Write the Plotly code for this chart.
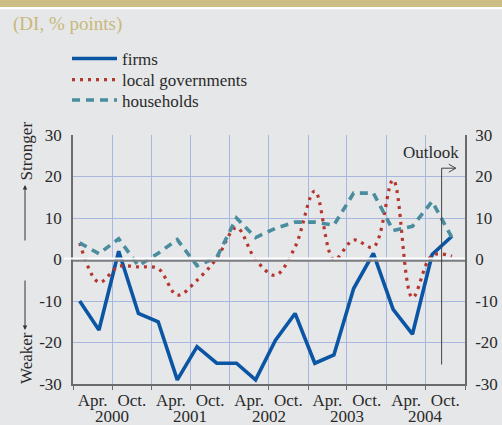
import plotly.graph_objects as go

# ---- data ----
years = [2000, 2001, 2002, 2003, 2004]
mid_months = [2, 5, 8, 11]  # quarter points plotted at first day of mid-quarter month
dates = [f"{y}-{m:02d}-01" for y in years for m in mid_months]

firms = [-10, -17, 2, -13, -15, -29, -21, -25, -25, -29,
         -19.5, -13, -25, -23, -7, 1.5, -12, -18, 1.2, 5.6]
local_governments = [4, -5.5, -1.7, -1.8, -2.2, -8.6, -5, 0.3, 7.7, 0,
                     -3.8, 3, 16.5, 0, 4.7, 3, 19.2, -9.2, 1, 0.8]
households = [4, 1.4, 5, -1.5, 1.5, 4.8, -1.5, 0.5, 10, 5.3,
              7.5, 9, 9, 8.3, 16, 16, 7, 8, 14, 5.3]

y_ticks = [-30, -20, -10, 0, 10, 20, 30]
y_ticktext = ["-30", "-20", "-10", "0", "10", "20", "30"]
x_label_vals = [f"{y}-{m:02d}-01" for y in years for m in (4, 10)]
x_label_text = ["Apr.", "Oct."] * len(years)
x_minor_vals = [f"{y}-{m:02d}-01" for y in years for m in (1, 7)] + ["2005-01-01"]
year_label_pos = [f"{y}-07-01" for y in years]

outlook_x = "2004-09-14"
outlook_arrow_end = "2004-11-19"

# ---- style ----
FONT = "Liberation Serif, Times New Roman, serif"
BG = "#e6e7e9"
GRID = "#a9b6df"
AXIS = "#6b6b6b"
TXT = "#2a2a2a"

W, H = 502, 425
ML, MR, MT, MB = 73, 37, 135, 41
PW, PH = W - ML - MR, H - MT - MB


def px_x(p):
    return (p - ML) / PW


def px_y(p):
    return (H - MB - p) / PH


fig = go.Figure()

fig.add_trace(go.Scatter(
    x=dates, y=firms, name="firms", mode="lines", legend="legend",
    line=dict(color="#0b56a4", width=3.6)))
fig.add_trace(go.Scatter(
    x=dates, y=local_governments, name="local governments", mode="lines", legend="legend2",
    line=dict(color="#b5362d", width=3.2, dash="3px,5px", shape="spline", smoothing=1)))
fig.add_trace(go.Scatter(
    x=dates, y=households, name="households", mode="lines", legend="legend3",
    line=dict(color="#4a8d9e", width=3.6, dash="8px,6px")))
# invisible trace to activate right axis
fig.add_trace(go.Scatter(
    x=dates, y=firms, yaxis="y2", mode="lines", showlegend=False,
    hoverinfo="skip", line=dict(color="rgba(0,0,0,0)")))

shapes = [
    # top band
    dict(type="rect", xref="paper", yref="paper", x0=px_x(0), x1=px_x(W),
         y0=px_y(7), y1=px_y(-2), fillcolor="#cbbe84", line_width=0, layer="below"),
    dict(type="rect", xref="paper", yref="paper", x0=px_x(0), x1=px_x(W),
         y0=px_y(9.3), y1=px_y(7), fillcolor="#ffffff", line_width=0, layer="below"),
    # zero line: gray with white just above
    dict(type="line", xref="paper", yref="y", ysizemode="pixel", yanchor=0,
         x0=0, x1=1, y0=-1.2, y1=-1.2, line=dict(color="#7d7d7d", width=2)),
    dict(type="line", xref="paper", yref="y", ysizemode="pixel", yanchor=0,
         x0=px_x(64), x1=1, y0=0.9, y1=0.9, line=dict(color="#ffffff", width=2)),
    # outlook marker
    dict(type="line", xref="x", yref="y", x0=outlook_x, x1=outlook_x,
         y0=-25.3, y1=22, line=dict(color="#444444", width=1)),
    dict(type="line", xref="x", yref="y", x0=outlook_x, x1=outlook_arrow_end,
         y0=22, y1=22, line=dict(color="#444444", width=1)),
    dict(type="path", xref="x", yref="y", xsizemode="pixel", ysizemode="pixel",
         xanchor=outlook_arrow_end, yanchor=22,
         path="M -7 4 L 0 0 L -7 -4", line=dict(color="#444444", width=1)),
]

annotations = [
    dict(text="(DI, % points)", xref="paper", yref="paper", x=px_x(11), y=px_y(24),
         xanchor="left", yanchor="middle", showarrow=False,
         font=dict(family=FONT, size=19, color="#c8b97a")),
    dict(text="Outlook", xref="x", yref="y", x="2004-07-28", y=25.9,
         xanchor="center", yanchor="middle", showarrow=False,
         font=dict(family=FONT, size=17, color=TXT)),
    dict(text="Stronger", xref="paper", yref="paper", x=px_x(26), y=px_y(151.5),
         textangle=-90, showarrow=False, xanchor="center", yanchor="middle",
         font=dict(family=FONT, size=17, color=TXT)),
    dict(text="Weaker", xref="paper", yref="paper", x=px_x(26), y=px_y(358),
         textangle=-90, showarrow=False, xanchor="center", yanchor="middle",
         font=dict(family=FONT, size=17, color=TXT)),
    dict(text="", xref="paper", yref="paper", x=px_x(25), y=px_y(185),
         ax=0, ay=57, showarrow=True, arrowhead=2, arrowsize=0.9, arrowwidth=1,
         arrowcolor="#333333"),
    dict(text="", xref="paper", yref="paper", x=px_x(25), y=px_y(330),
         ax=0, ay=-51, showarrow=True, arrowhead=2, arrowsize=0.9, arrowwidth=1,
         arrowcolor="#333333"),
]
for yr, pos in zip(years, year_label_pos):
    annotations.append(dict(text=str(yr), xref="x", yref="paper", x=pos, y=px_y(416.5),
                            xanchor="center", yanchor="middle", showarrow=False,
                            font=dict(family=FONT, size=17, color=TXT)))


def legend_at(row_center):
    return dict(x=px_x(67), y=px_y(row_center), xanchor="left", yanchor="middle",
                bgcolor="rgba(0,0,0,0)", borderwidth=0, itemwidth=45,
                font=dict(family=FONT, size=17, color=TXT))


fig.update_layout(
    width=W, height=H,
    margin=dict(l=ML, r=MR, t=MT, b=MB, pad=0, autoexpand=False),
    paper_bgcolor=BG, plot_bgcolor=BG,
    font=dict(family=FONT, size=17, color=TXT),
    showlegend=True,
    legend=legend_at(59),
    legend2=legend_at(80),
    legend3=legend_at(100.5),
    xaxis=dict(
        type="date", range=["2000-01-01", "2005-01-01"],
        tickmode="array", tickvals=x_label_vals, ticktext=x_label_text,
        ticks="", showgrid=False, zeroline=False,
        showline=True, linecolor=AXIS, linewidth=1.5,
        tickfont=dict(family=FONT, size=17, color=TXT),
        ticklabelstandoff=0,
        minor=dict(tickmode="array", tickvals=x_minor_vals, ticks="outside",
                   ticklen=4, tickcolor=AXIS, tickwidth=1.2,
                   showgrid=True, gridcolor=GRID, gridwidth=1),
    ),
    yaxis=dict(
        range=[-30, 30], tickmode="array", tickvals=y_ticks, ticktext=y_ticktext,
        showgrid=True, gridcolor=GRID, gridwidth=1, zeroline=False,
        showline=True, linecolor=AXIS, linewidth=1.5, ticks="",
        ticklabelstandoff=6,
        tickfont=dict(family=FONT, size=17, color=TXT),
    ),
    yaxis2=dict(
        range=[-30, 30], overlaying="y", side="right", tickmode="array",
        tickvals=y_ticks, ticktext=y_ticktext, showgrid=False, zeroline=False,
        showline=True, linecolor=AXIS, linewidth=1.5, ticks="",
        ticklabelstandoff=5,
        tickfont=dict(family=FONT, size=17, color=TXT),
    ),
    shapes=shapes,
    annotations=annotations,
)

fig.write_html(
    "out.html",
    config={"displayModeBar": False},
    post_script="document.body.style.margin='0';document.body.style.overflow='hidden';",
)
